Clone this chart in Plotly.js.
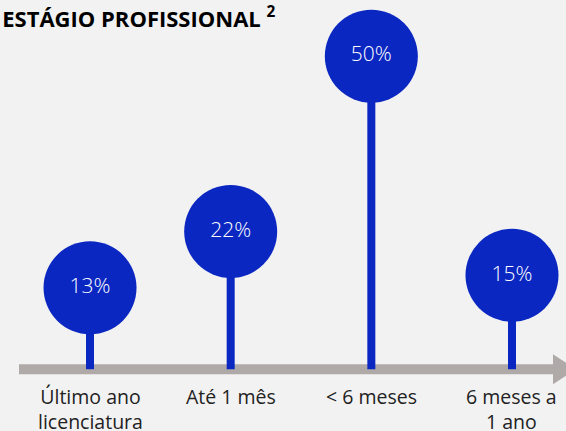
<!DOCTYPE html>
<html>
<head>
<meta charset="utf-8">
<script src="https://cdn.plot.ly/plotly-3.0.1.min.js"></script>
<style>
  html, body { margin: 0; padding: 0; background: #f2f2f2; }
  #chart { width: 566px; height: 431px; }
</style>
</head>
<body>
<div id="chart"></div>
<script>
const categories = ["Último ano<br>licenciatura", "Até 1 mês", "< 6 meses", "6 meses a<br>1 ano"];
const values = [13, 22, 50, 15];
const valueLabels = ["13%", "22%", "50%", "15%"];
const chartTitle = "ESTÁGIO PROFISSIONAL <sup>2</sup>";

const BLUE = "#0b27c2";
const GRAY = "#afaaa8";
const FONT = "Open Sans, Noto Sans, sans-serif";

const xs = categories.map((c, i) => i);

const traces = [];
// stems
xs.forEach((x, i) => {
  traces.push({
    type: "scatter", mode: "lines",
    x: [x, x], y: [0, values[i]],
    line: { color: BLUE, width: 8 },
    hoverinfo: "skip", showlegend: false
  });
});
// circles with labels
traces.push({
  type: "scatter", mode: "markers+text",
  x: xs, y: values,
  text: valueLabels,
  textposition: "middle center",
  textfont: { color: "#ffffff", size: 21, family: FONT, weight: 300 },
  marker: { size: 93, color: BLUE, line: { width: 0 } },
  hoverinfo: "skip", showlegend: false
});

const annotations = categories.map((c, i) => ({
  x: xs[i], y: 0, xref: "x", yref: "y",
  text: c, showarrow: false,
  xanchor: "center", yanchor: "top", yshift: -12,
  font: { size: 19.5, color: "#222222", family: FONT },
  align: "center"
}));

const layout = {
  width: 566, height: 431,
  margin: { l: 0, r: 0, t: 0, b: 0 },
  paper_bgcolor: "#f2f2f2", plot_bgcolor: "#f2f2f2",
  title: {
    text: chartTitle,
    x: 0.004, xanchor: "left", xref: "paper",
    y: 1 - 19 / 431, yanchor: "middle", yref: "container",
    font: { size: 22, color: "#000000", family: FONT, weight: 700 }
  },
  xaxis: { range: [-0.640, 3.384], visible: false, fixedrange: true },
  yaxis: { range: [-9.87, 58.98], visible: false, fixedrange: true },
  showlegend: false,
  annotations: annotations,
  shapes: [
    { type: "line", layer: "below", xref: "paper", yref: "y",
      x0: 19 / 566, x1: 554 / 566, y0: 0, y1: 0,
      line: { color: GRAY, width: 10 } },
    { type: "path", layer: "below", xref: "paper", yref: "y",
      path: `M ${553/566} 2.4 L ${576/566} 0 L ${553/566} -2.4 Z`,
      fillcolor: GRAY, line: { width: 0 } }
  ]
};

Plotly.newPlot("chart", traces, layout, { displayModeBar: false, staticPlot: true });
</script>
</body>
</html>
